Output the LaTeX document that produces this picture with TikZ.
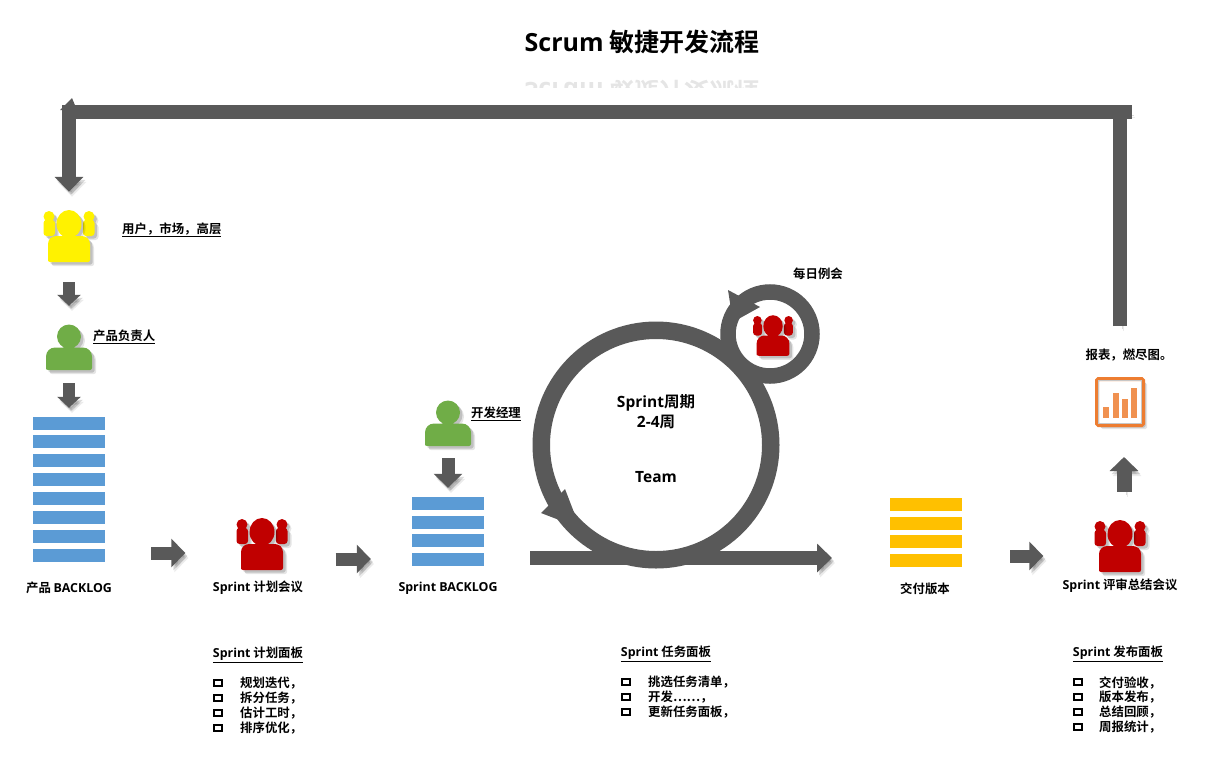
\documentclass[tikz,border=0pt]{standalone}
\usepackage{fontspec}
\usepackage{amsmath}
\setmainfont{Noto Sans CJK SC}[BoldFont=Noto Sans CJK SC Bold]
\newfontfamily\latfont{Open Sans}
\newcommand{\lat}[1]{{\latfont\bfseries #1}}
\usetikzlibrary{arrows.meta}
\definecolor{bargrey}{HTML}{595959}
\definecolor{teamred}{HTML}{C00000}
\definecolor{ownergreen}{HTML}{70AD47}
\definecolor{stackblue}{HTML}{5B9BD5}
\definecolor{stackgold}{HTML}{FFC000}
\definecolor{chartorange}{HTML}{ED7D31}
\tikzset{
	softfill/.style={preaction={fill=black, opacity=.10, transform canvas={shift={(4pt,-4pt)}}}, preaction={fill=black, opacity=.16, transform canvas={shift={(2.5pt,-2.5pt)}}}},
	softline/.style={preaction={draw=black, opacity=.08, transform canvas={shift={(3pt,-5pt)}}}, preaction={draw=black, opacity=.14, transform canvas={shift={(2pt,-3pt)}}}},
	bigbar/.style={draw=bargrey, line width=14pt, softline, -{Triangle[length=15pt,width=28pt]}},
	midbar/.style={draw=bargrey, line width=13pt, softline, -{Triangle[length=14pt,width=28pt]}},
	smallbar/.style={draw=bargrey, line width=12pt, softline, -{Triangle[length=11pt,width=23pt]}},
	plainbar/.style={draw=bargrey, line width=14pt, softline},
	ringline/.style={circle, draw=bargrey, fill=white, inner sep=0pt},
	iconbox/.style={inner sep=0pt, minimum width=#1},
	stackbar/.style={inner sep=0pt, minimum width=72pt, minimum height=13pt, fill=#1},
	labeltext/.style={font=\bfseries\fontsize{12.4}{14}\selectfont, inner sep=0pt},
	centertext/.style={font=\bfseries\fontsize{15.5}{18}\selectfont, inner sep=0pt},
	tickbox/.style={draw=black, line width=1.8pt, inner sep=0pt, minimum width=8pt, minimum height=6pt},
	pics/team/.style={code={
		\path[softfill, pic actions] (-20,-19.5) circle (5.5)
			[rounded corners=3pt] (-25.5,0) -- (-25.5,-16) -- (-14,-16) -- (-14,0) -- cycle;
		\path[softfill, pic actions] (20,-19.5) circle (5.5)
			[rounded corners=3pt] (14,0) -- (14,-16) -- (25.5,-16) -- (25.5,0) -- cycle;
		\path[softfill, pic actions] (0,-12) ellipse (12.5 and 14)
			(-21,23) [rounded corners=8pt] -- (-21,0) -- (21,0) [rounded corners=2pt] -- (21,26) -- (-21,26) -- cycle;
	}},
	pics/person/.style={code={
		\path[softfill, pic actions] (0,-11) circle (12)
			(-23,20) [rounded corners=9pt] -- (-23,0) -- (23,0) [rounded corners=2pt] -- (23,22.5) -- (-23,22.5) -- cycle;
	}},
}

\begin{document}
\begin{tikzpicture}[x=1pt, y=-1pt]
	\useasboundingbox (0,0) rectangle (1209,769);
	% title and its faded reflection
	\node[font=\bfseries\fontsize{25}{30}\selectfont, inner sep=0pt] (title) at (642,42) {\lat{Scrum} 敏捷开发流程};
	\begin{scope}
		\clip (520,77) rectangle (765,87);
		\node[font=\bfseries\fontsize{25}{30}\selectfont, inner sep=0pt, yscale=-1, opacity=.1] (mirror) at (642,92) {\lat{Scrum} 敏捷开发流程};
	\end{scope}
	% icons on the left
	\node[iconbox=50pt, minimum height=52pt] (users) at (69,236) {};
	\pic[fill=yellow] at (users) {team};
	\node[iconbox=46pt, minimum height=45pt] (owner) at (69,347.5) {};
	\pic[fill=ownergreen] at (owner) {person};
	\node[iconbox=72pt, minimum height=145pt] (backlog) at (69,489.5) {};
	\foreach \i in {0,...,7}
		\node[stackbar=stackblue] (backlog\i) at (69,{423+18.9*\i}) {};
	\node[iconbox=51pt, minimum height=52pt] (plan) at (262,544) {};
	\pic[fill=teamred] at (plan) {team};
	% middle
	\node[iconbox=46pt, minimum height=45pt] (manager) at (448,423.5) {};
	\pic[fill=ownergreen] at (manager) {person};
	\node[iconbox=72pt, minimum height=69pt] (sprintlog) at (448,531.5) {};
	\foreach \i in {0,...,3}
		\node[stackbar=stackblue] (sprintlog\i) at (448,{503.5+18.7*\i}) {};
	% big loop
	\node[ringline, line width=17.5pt, minimum size=229.5pt] (sprint) at (656,445) {};
	\fill[bargrey] (565,489) -- (541,513) -- (580,528) -- cycle;
	\coordinate (linestart) at (530,558);
	\coordinate (lineend) at (832,558);
	\draw[bigbar] (linestart) -- (lineend);
	% daily loop
	\node[ringline, line width=15.5pt, minimum size=84pt] (daily) at (770,334) {};
	\fill[bargrey] (728,290) -- (760,307) -- (733,322) -- cycle;
	\node[iconbox=40pt, minimum height=40pt] (dailyteam) at (773,335.5) {};
	\pic[fill=teamred, scale=.78] at (dailyteam) {team};
	% right side
	\node[iconbox=72pt, minimum height=69pt] (release) at (926,532.5) {};
	\foreach \i in {0,...,3}
		\node[stackbar=stackgold] (release\i) at (926,{504.5+18.7*\i}) {};
	\node[iconbox=51pt, minimum height=52pt] (review) at (1120,546) {};
	\pic[fill=teamred] at (review) {team};
	\node[draw=chartorange, fill=white, line width=4pt, rounded corners=1.5pt, inner sep=0pt, minimum size=46pt, softfill] (chart) at (1120,402) {};
	\draw[black!22, line width=1.5pt] (1098.5,380.5) rectangle (1141.5,423.5);
	\foreach \x/\t in {1103/407, 1113/393, 1122/399, 1131/388}
		\fill[chartorange!85!white] (\x,\t) rectangle (\x+5.5,418);
	% block arrows
	\draw[smallbar, shorten <=20pt, shorten >=19pt] (users) ++(0,26) -- (owner.north);
	\draw[smallbar, shorten <=13pt, shorten >=9pt] (owner.south) -- (backlog.north);
	\draw[midbar, shorten <=46pt, shorten >=51pt] (backlog.east |- 0,553) -- (plan.west |- 0,553);
	\draw[midbar, shorten <=48pt, shorten >=41pt] (plan.east |- 0,559) -- (sprintlog.west |- 0,559);
	\draw[midbar, shorten <=12pt, shorten >=9pt] (manager.south) -- (sprintlog.north);
	\draw[midbar, shorten <=48pt, shorten >=51pt] (release.east |- 0,556) -- (review.west |- 0,556);
	\draw[midbar, line width=15pt, shorten <=28pt, shorten >=30pt] (1124,0 |- review.north) -- (1124,0 |- chart.south);
	% feedback path
	\coordinate (backup) at (1120,326);
	\coordinate (backtop) at (1120,119);
	\coordinate (topright) at (1132,112);
	\coordinate (topleft) at (62,112);
	\coordinate (leftdrop) at (69,105);
	\draw[plainbar] (backup) -- (backtop);
	\draw[plainbar] (topright) -- (topleft);
	\fill[bargrey] (60,110) -- (72,98) -- (77,110) -- cycle;
	\draw[bigbar, shorten >=18pt] (leftdrop) -- (users.north);
	% labels
	\node[labeltext, anchor=west] (userstext) at (122,230) {\underline{用户，市场，高层}};
	\node[labeltext, anchor=west] (ownertext) at (93,337) {\underline{产品负责人}};
	\node[labeltext, anchor=west] (managertext) at (471,414) {\underline{开发经理}};
	\node[labeltext] (backlogtext) at (69,588) {产品 \lat{BACKLOG}};
	\node[labeltext] (plantext) at (258,588) {\lat{Sprint} 计划会议};
	\node[labeltext] (sprintlogtext) at (448,588) {\lat{Sprint BACKLOG}};
	\node[labeltext] (releasetext) at (925,588.5) {交付版本};
	\node[labeltext] (reviewtext) at (1120,586) {\lat{Sprint} 评审总结会议};
	\node[labeltext] (charttext) at (1129,355) {报表，燃尽图。};
	\node[labeltext] (dailytext) at (818,274) {每日例会};
	\node[centertext] (cycletext) at (656,402.5) {\lat{Sprint}周期};
	\node[centertext] (weektext) at (656,422.5) {\lat{2-4}周};
	\node[centertext] (teamtext) at (656,477.5) {\lat{Team}};
	% boards
	\node[labeltext] (planboard) at (258,655) {\underline{\lat{Sprint} 计划面板}};
	\foreach \t [count=\i] in {规划迭代，, 拆分任务，, 估计工时，, 排序优化，} {
		\node[tickbox] (plantick\i) at (218,{668+15*\i}) {};
		\node[labeltext, anchor=west] (planitem\i) at (240,{668.5+15*\i}) {\t};
	}
	\node[labeltext] (taskboard) at (666,654) {\underline{\lat{Sprint} 任务面板}};
	\foreach \t [count=\i] in {挑选任务清单，, 开发……，, 更新任务面板，} {
		\node[tickbox] (tasktick\i) at (626,{667+15*\i}) {};
		\node[labeltext, anchor=west] (taskitem\i) at (648,{667.5+15*\i}) {\t};
	}
	\node[labeltext] (shipboard) at (1118,654) {\underline{\lat{Sprint} 发布面板}};
	\foreach \t [count=\i] in {交付验收，, 版本发布，, 总结回顾，, 周报统计，} {
		\node[tickbox] (shiptick\i) at (1078,{667+15*\i}) {};
		\node[labeltext, anchor=west] (shipitem\i) at (1099,{667.5+15*\i}) {\t};
	}
\end{tikzpicture}
\end{document}
